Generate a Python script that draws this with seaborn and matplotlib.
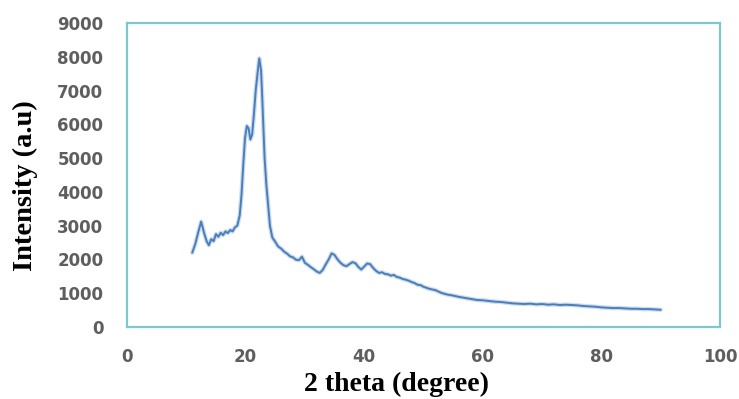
import pandas as pd
import matplotlib.pyplot as plt
import seaborn as sns

# XRD pattern
two_theta = [11.0, 11.5, 12.0, 12.5, 13.0, 13.4, 13.8, 14.2, 14.6, 15.0, 15.4, 15.8,
             16.2, 16.6, 17.0, 17.4, 17.8, 18.2, 18.6, 19.0, 19.3, 19.6, 19.9, 20.2,
             20.5, 20.8, 21.1, 21.4, 21.7, 22.0, 22.3, 22.6, 22.8, 23.0, 23.2, 23.5,
             23.8, 24.1, 24.5, 25.0, 25.5, 26.0, 26.5, 27.0, 27.5, 28.0, 28.5, 29.0,
             29.5, 30.0, 30.5, 31.0, 31.5, 32.0, 32.5, 33.0, 33.5, 34.0, 34.5, 35.0,
             35.5, 36.0, 36.5, 37.0, 37.5, 38.0, 38.5, 39.0, 39.5, 40.0, 40.5, 41.0,
             41.5, 42.0, 42.5, 43.0, 43.5, 44.0, 44.5, 45.0, 45.5, 46.0, 46.5, 47.0,
             47.5, 48.0, 48.5, 49.0, 49.5, 50.0, 51.0, 52.0, 53.0, 54.0, 55.0, 56.0,
             57.0, 58.0, 59.0, 60.0, 61.0, 62.0, 63.0, 64.0, 65.0, 66.0, 67.0, 68.0,
             69.0, 70.0, 71.0, 72.0, 73.0, 74.0, 75.0, 76.0, 77.0, 78.0, 79.0, 80.0,
             81.0, 82.0, 83.0, 84.0, 85.0, 86.0, 87.0, 88.0, 89.0, 90.0]
intensity = [2200, 2450, 2800, 3120, 2780, 2550, 2420, 2600, 2540, 2750, 2670, 2790,
             2720, 2830, 2780, 2870, 2830, 2950, 3000, 3300, 3900, 4800, 5600, 5950,
             5880, 5550, 5700, 6300, 7000, 7500, 7950, 7600, 6800, 5900, 5000, 4200,
             3600, 3000, 2650, 2520, 2380, 2320, 2230, 2170, 2090, 2060, 1990, 1980,
             2080, 1900, 1840, 1770, 1710, 1640, 1600, 1690, 1850, 2000, 2180, 2130,
             2000, 1900, 1830, 1800, 1860, 1920, 1890, 1780, 1700, 1790, 1880, 1860,
             1750, 1660, 1600, 1620, 1570, 1560, 1520, 1540, 1480, 1460, 1420, 1400,
             1370, 1330, 1300, 1250, 1240, 1190, 1130, 1090, 1010, 960, 930, 890,
             860, 830, 800, 790, 770, 750, 740, 720, 700, 690, 680, 690,
             670, 680, 660, 670, 650, 660, 650, 640, 620, 610, 600, 580,
             570, 560, 560, 550, 540, 540, 530, 530, 520, 510]

df = pd.DataFrame({'two_theta': two_theta, 'intensity': intensity})

sns.set_style('white')

fig = plt.figure(figsize=(7.39, 3.99), dpi=100)
ax = fig.add_axes([0.1719, 0.1805, 0.8024, 0.7619])

# soft halo under the line, then the line itself
sns.lineplot(x='two_theta', y='intensity', data=df, ax=ax, color='#9dbbdc', linewidth=3.2, alpha=0.5)
sns.lineplot(x='two_theta', y='intensity', data=df, ax=ax, color='#4a7ebb', linewidth=1.4)

ax.set_xlim(0, 100)
ax.set_ylim(0, 9000)
ax.set_xticks([0, 20, 40, 60, 80, 100])
ax.set_yticks(range(0, 9001, 1000))

for side in ['left', 'right', 'top', 'bottom']:
    ax.spines[side].set_visible(True)
    ax.spines[side].set_color('#7cc8cb')
    ax.spines[side].set_linewidth(1.6)

ax.tick_params(axis='both', length=0, labelsize=12, labelcolor='#5e5e5e')
ax.tick_params(axis='x', pad=15)
ax.tick_params(axis='y', pad=17)
for lab in ax.get_xticklabels() + ax.get_yticklabels():
    lab.set_fontweight('bold')

ax.set_xlabel('2 theta (degree)', fontsize=20, fontweight='bold', family='Liberation Serif', color='black')
ax.set_ylabel('Intensity (a.u)', fontsize=20.5, fontweight='bold', family='Liberation Serif', color='black')
ax.xaxis.set_label_coords(0.4536, -0.148)
ax.yaxis.set_label_coords(-0.150, 0.464)

plt.savefig('out.png', dpi=100)
